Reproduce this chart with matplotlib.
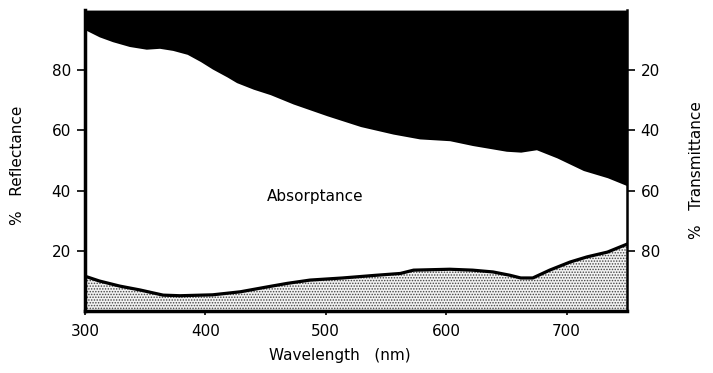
import matplotlib.pyplot as plt

# upper curve: 100 - % transmittance
wl_top = [300, 312, 323, 337, 351, 362, 373, 385, 396, 406, 418, 426, 440, 454,
          473, 501, 529, 556, 578, 603, 622, 650, 662, 675, 692, 714, 734, 750]
top = [93.5, 91.1, 89.5, 87.9, 87.0, 87.3, 86.6, 85.3, 82.9, 80.4, 77.8, 75.9, 73.7, 71.9,
       68.8, 64.9, 61.3, 58.8, 57.2, 56.6, 55.0, 53.1, 52.8, 53.6, 50.9, 46.7, 44.3, 41.7]

# lower curve: % reflectance
wl_ref = [300, 312, 329, 346, 356, 365, 379, 406, 429, 451, 468, 487, 514, 542,
          562, 573, 603, 622, 639, 653, 662, 672, 686, 703, 717, 734, 750]
refl = [11.6, 10.0, 8.3, 7.0, 6.1, 5.3, 5.1, 5.4, 6.4, 8.0, 9.2, 10.3, 11.0, 11.9,
        12.5, 13.6, 13.9, 13.6, 13.0, 11.9, 11.0, 11.0, 13.6, 16.3, 18.0, 19.6, 22.2]

yticks = [20, 40, 60, 80]

plt.rcParams['font.family'] = ['DejaVu Sans']
plt.rcParams['hatch.linewidth'] = 0.7

fig = plt.figure(figsize=(7.13, 3.73), dpi=100)
ax = fig.add_axes([0.119, 0.166, 0.76, 0.807])

ax.fill_between(wl_top, top, 100, color='black', linewidth=0)
ax.fill_between(wl_ref, 0, refl, facecolor='#f2f2f2', edgecolor='#444444',
                hatch='......', linewidth=0)
ax.plot(wl_ref, refl, color='black', linewidth=2.3)

ax.text(491, 38, 'Absorptance', fontsize=11, ha='center', va='center')

ax.set_xlim(300, 750)
ax.set_ylim(0, 100)
ax.set_xticks([300, 400, 500, 600, 700])
ax.set_yticks(yticks)
ax.tick_params(axis='y', length=6, width=1.2, labelsize=11, pad=4)
ax.tick_params(axis='x', length=3, width=1.2, labelsize=11, pad=6)

ax.spines['top'].set_visible(False)
ax.spines['right'].set_visible(False)
ax.spines['left'].set_linewidth(2.5)
ax.spines['bottom'].set_linewidth(2.5)

ax2 = ax.twinx()
ax2.set_ylim(100, 0)
ax2.set_yticks(yticks)
ax2.tick_params(axis='y', length=6, width=1.2, labelsize=11, pad=4)
for s in ['top', 'left', 'bottom']:
    ax2.spines[s].set_visible(False)
ax2.spines['right'].set_linewidth(1.8)

fig.text(0.477, 0.048, 'Wavelength   (nm)', fontsize=11, ha='center', va='center')
fig.text(0.025, 0.558, '%   Reflectance', fontsize=11, rotation=90, ha='center', va='center')
fig.text(0.977, 0.544, '%   Transmittance', fontsize=11, rotation=90, ha='center', va='center')

fig.savefig('out.png', dpi=100)
